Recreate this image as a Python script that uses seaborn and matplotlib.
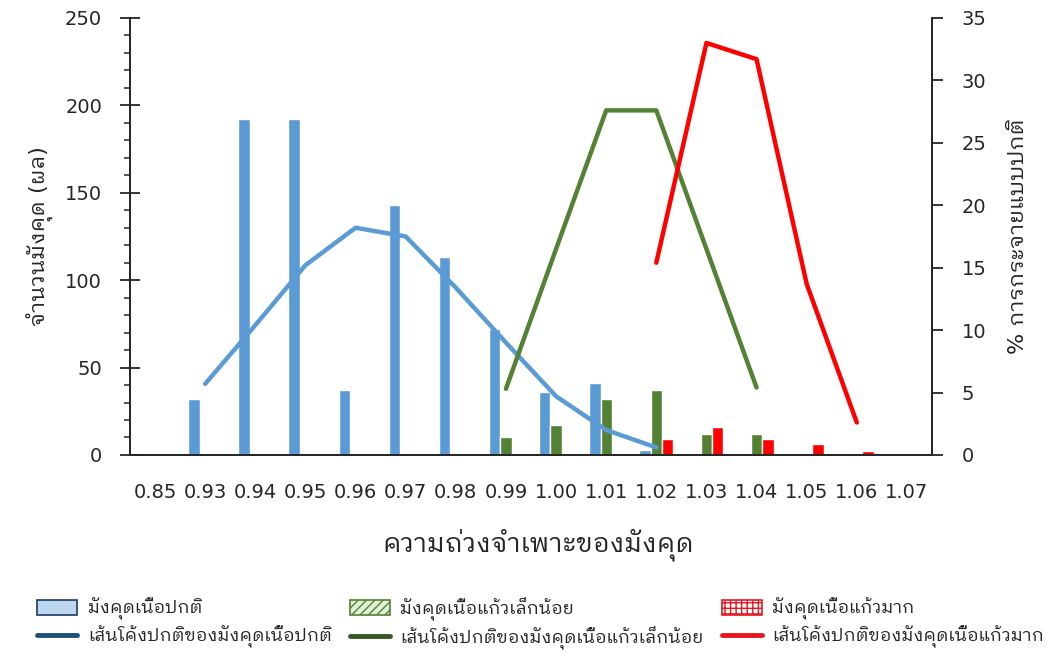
import matplotlib
matplotlib.use("Agg")
import numpy as np
import pandas as pd
import seaborn as sns
import matplotlib.pyplot as plt
from matplotlib.patches import Patch
from matplotlib.lines import Line2D
from matplotlib.ticker import MultipleLocator

# categories (specific gravity classes)
categories = ["0.85", "0.93", "0.94", "0.95", "0.96", "0.97", "0.98", "0.99",
              "1.00", "1.01", "1.02", "1.03", "1.04", "1.05", "1.06", "1.07"]

# bar counts (fruits)
normal_counts = [0, 32, 192, 192, 37, 143, 113, 72, 36, 41, 3, 0, 0, 0, 0, 0]
slight_counts = [0, 0, 0, 0, 0, 0, 0, 10, 17, 32, 37, 12, 12, 0, 0, 0]
heavy_counts = [0, 0, 0, 0, 0, 0, 0, 0, 0, 0, 9, 16, 9, 6, 2, 0]

# normal distribution curves (%), None where the curve is not drawn
normal_curve = [None, 5.7, 10.4, 15.2, 18.2, 17.5, 13.4, 9.0, 4.7, 2.0, 0.6,
                None, None, None, None, None]
slight_curve = [None, None, None, None, None, None, None, 5.3, 16.5, 27.6, 27.6,
                16.5, 5.4, None, None, None]
heavy_curve = [None, None, None, None, None, None, None, None, None, None, 15.4,
               33.0, 31.7, 13.7, 2.6, None]

bar_names = ["มังคุดเนื้อปกติ", "มังคุดเนื้อแก้วเล็กน้อย", "มังคุดเนื้อแก้วมาก"]
curve_names = ["เส้นโค้งปกติของมังคุดเนื้อปกติ",
               "เส้นโค้งปกติของมังคุดเนื้อแก้วเล็กน้อย",
               "เส้นโค้งปกติของมังคุดเนื้อแก้วมาก"]

bar_colors = ["#5B9BD5", "#548235", "#FF0000"]
curve_colors = ["#5B9BD5", "#548235", "#FF0000"]

sns.set_theme(style="white")
plt.rcParams["font.family"] = ["DejaVu Sans", "IBM Plex Sans Thai Looped"]
axis_color = "#262626"

bars = pd.DataFrame({
    "sg": categories * 3,
    "count": normal_counts + slight_counts + heavy_counts,
    "type": [bar_names[0]] * 16 + [bar_names[1]] * 16 + [bar_names[2]] * 16,
})

fig = plt.figure(figsize=(10.46, 6.59), dpi=100)
ax = fig.add_axes([0.1243, 0.3096, 0.7667, 0.6631])

sns.barplot(data=bars, x="sg", y="count", hue="type", order=categories,
            hue_order=bar_names, palette=bar_colors, width=0.68,
            saturation=1, legend=False, ax=ax)

ax2 = ax.twinx()
for vals, col in zip([normal_curve, slight_curve, heavy_curve], curve_colors):
    pos = [i for i, v in enumerate(vals) if v is not None]
    ys = [v for v in vals if v is not None]
    sns.lineplot(x=pos, y=ys, color=col, linewidth=3.2, ax=ax2)

ax.set_xlim(-0.5, len(categories) - 0.5)
ax.set_ylim(0, 250)
ax2.set_ylim(0, 35)

# x: labels centred, tick marks between categories
ax.set_xticks(range(len(categories)))
ax.set_xticklabels(categories)
ax.set_xticks(np.arange(-0.5, len(categories), 1), minor=True)
ax.tick_params(axis="x", which="major", length=0, pad=20, labelsize=14)
ax.tick_params(axis="x", which="minor", length=7, width=1.3, direction="out",
               color=axis_color)

ax.yaxis.set_major_locator(MultipleLocator(50))
ax.yaxis.set_minor_locator(MultipleLocator(10))
ax.tick_params(axis="y", which="major", length=14, width=1.3, direction="inout",
               color=axis_color, labelsize=14, pad=13)
ax.tick_params(axis="y", which="minor", length=4.5, width=1.1, direction="out",
               color=axis_color, left=True)
ax2.yaxis.set_major_locator(MultipleLocator(5))
ax2.tick_params(axis="y", which="major", length=8, width=1.3, direction="out",
                color=axis_color, labelsize=14, pad=13.5)

for a in (ax, ax2):
    a.spines["top"].set_visible(False)
    for s in ("left", "right", "bottom"):
        a.spines[s].set_color(axis_color)
        a.spines[s].set_linewidth(1.3)
    a.grid(False)

ax.set_xlabel("")
ax.set_ylabel("จำนวนมังคุด (ผล)", fontsize=16)
ax2.set_ylabel("% การกระจายแบบปกติ", fontsize=16)
ax.yaxis.set_label_coords(-0.096, 0.5)
ax2.yaxis.set_label_coords(1.095, 0.5)
fig.text(0.515, 0.173, "ความถ่วงจำเพาะของมังคุด", ha="center", va="center",
         fontsize=19)

handles = [
    Patch(facecolor="#BDD7EE", edgecolor="#1F3864", linewidth=1.2),
    Line2D([], [], color="#1F4E79", linewidth=3.5),
    Patch(facecolor="#E2F0D9", edgecolor="#548235", hatch="////", linewidth=1.2),
    Line2D([], [], color="#375623", linewidth=3.5),
    Patch(facecolor="white", edgecolor="#E8161E", hatch="+++", linewidth=1.2),
    Line2D([], [], color="#E8161E", linewidth=3.5),
]
labels = [bar_names[0], curve_names[0], bar_names[1], curve_names[1],
          bar_names[2], curve_names[2]]
fig.legend(handles, labels, ncol=3, loc="center", bbox_to_anchor=(0.517, 0.055),
           frameon=False, fontsize=13, handlelength=2.2, handleheight=0.9,
           columnspacing=1.0, handletextpad=0.6, labelspacing=0.3)

fig.savefig("out.png", dpi=100)
